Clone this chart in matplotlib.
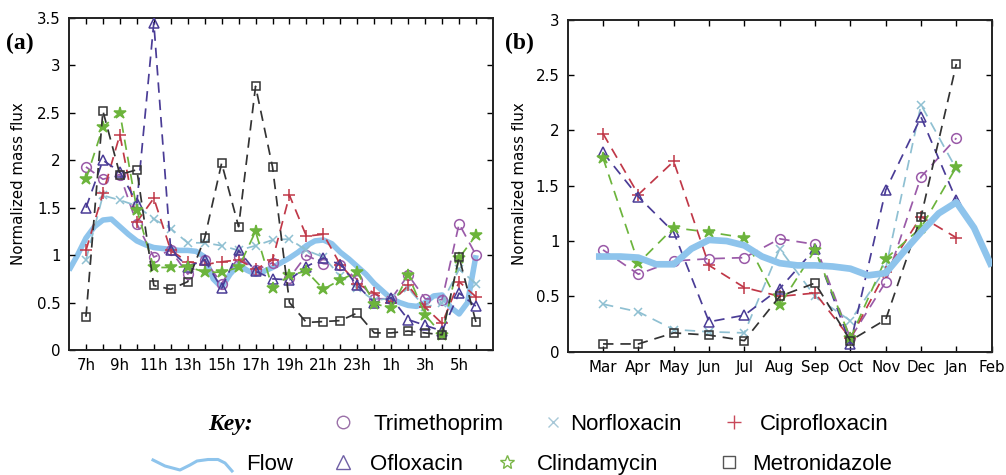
import matplotlib
matplotlib.use("Agg")
import matplotlib.pyplot as plt
from matplotlib.lines import Line2D
import numpy as np

# ---------------- data: panel (a) hourly ----------------
hours = ['7h', '8h', '9h', '10h', '11h', '12h', '13h', '14h', '15h', '16h', '17h', '18h',
         '19h', '20h', '21h', '22h', '23h', '0h', '1h', '2h', '3h', '4h', '5h', '6h']
hour_ticklabels = ['7h', '9h', '11h', '13h', '15h', '17h', '19h', '21h', '23h', '1h', '3h', '5h']

trimethoprim_a = [1.93, 1.80, 1.85, 1.33, 0.98, 1.05, 0.80, 0.95, 0.70, 0.98, 0.84, 0.92,
                  0.76, 1.00, 0.91, 0.90, 0.74, 0.54, 0.54, 0.79, 0.54, 0.53, 1.33, 1.00]
norfloxacin_a = [0.95, 1.63, 1.58, 1.52, 1.38, 1.28, 1.13, 1.13, 1.10, 1.05, 1.10, 1.16,
                 1.17, 1.05, 0.98, 0.78, 0.65, 0.52, 0.55, 0.65, 0.45, 0.50, 0.85, 0.70]
ciprofloxacin_a = [1.05, 1.65, 2.27, 1.35, 1.60, 1.05, 0.93, 0.90, 0.93, 0.95, 0.85, 0.95,
                   1.63, 1.20, 1.22, 0.90, 0.70, 0.60, 0.50, 0.68, 0.45, 0.28, 0.72, 0.56]
ofloxacin_a = [1.50, 2.00, 1.88, 1.55, 3.45, 1.05, 0.88, 0.95, 0.65, 1.05, 0.83, 0.75,
               0.74, 0.88, 0.97, 0.90, 0.68, 0.50, 0.55, 0.32, 0.26, 0.20, 0.60, 0.46]
clindamycin_a = [1.80, 2.35, 2.50, 1.48, 0.87, 0.87, 0.88, 0.82, 0.82, 0.87, 1.25, 0.65,
                 0.79, 0.83, 0.64, 0.74, 0.82, 0.49, 0.44, 0.79, 0.37, 0.16, 0.97, 1.21]
metronidazole_a = [0.35, 2.52, 1.85, 1.90, 0.68, 0.64, 0.72, 1.18, 1.97, 1.30, 2.78, 1.93,
                   0.50, 0.29, 0.30, 0.31, 0.39, 0.18, 0.18, 0.20, 0.18, 0.16, 0.98, 0.29]

flow_a_pos = [-1, -0.5, 0, 0.5, 1, 1.5, 2, 2.5, 3, 3.5, 4, 4.5, 5, 5.5, 6, 6.5, 7, 7.5, 8, 8.5,
              9, 9.5, 10, 10.5, 11, 11.5, 12, 12.5, 13, 13.5, 14, 14.5, 15, 15.5, 16, 16.5,
              17, 17.5, 18, 18.5, 19, 19.5, 20, 20.5, 21, 21.5, 22, 22.5, 23]
flow_a = [0.84, 1.00, 1.18, 1.30, 1.37, 1.38, 1.30, 1.22, 1.15, 1.11, 1.08, 1.07, 1.06, 1.05,
          1.05, 1.04, 0.98, 0.75, 0.66, 0.80, 0.90, 0.84, 0.80, 0.83, 0.87, 0.92, 0.97, 1.03,
          1.10, 1.15, 1.16, 1.12, 1.03, 0.96, 0.88, 0.80, 0.70, 0.62, 0.54, 0.50, 0.47, 0.46,
          0.50, 0.57, 0.58, 0.45, 0.38, 0.50, 1.00]

# ---------------- data: panel (b) monthly ----------------
months = ['Mar', 'Apr', 'May', 'Jun', 'Jul', 'Aug', 'Sep', 'Oct', 'Nov', 'Dec', 'Jan', 'Feb']
trimethoprim_b = [0.92, 0.70, 0.82, 0.84, 0.85, 1.02, 0.97, 0.12, 0.63, 1.58, 1.93]
norfloxacin_b = [0.43, 0.36, 0.20, 0.18, 0.17, 0.93, 0.50, 0.28, 0.75, 2.23, 1.65]
ciprofloxacin_b = [1.97, 1.42, 1.72, 0.78, 0.58, 0.50, 0.53, 0.12, 0.72, 1.22, 1.03]
ofloxacin_b = [1.80, 1.40, 1.08, 0.27, 0.33, 0.57, 0.93, 0.07, 1.46, 2.12, 1.37]
clindamycin_b = [1.75, 0.80, 1.12, 1.08, 1.03, 0.42, 0.92, 0.12, 0.84, 1.12, 1.67]
metronidazole_b = [0.07, 0.07, 0.17, 0.15, 0.10, 0.50, 0.62, 0.10, 0.29, 1.22, 2.60]

flow_b_pos = [-0.2, 0, 0.5, 1, 1.5, 2, 2.5, 3, 3.5, 4, 4.5, 5, 5.5, 6, 6.5, 7, 7.5, 8,
              8.5, 9, 9.5, 10, 10.5, 11]
flow_b = [0.86, 0.86, 0.86, 0.85, 0.79, 0.79, 0.93, 1.01, 1.00, 0.96, 0.86, 0.80,
          0.78, 0.78, 0.77, 0.75, 0.69, 0.71, 0.90, 1.08, 1.25, 1.35, 1.12, 0.77]

# ---------------- styles ----------------
C_TRI = '#9a5aa8'
C_NOR = '#8fc0d2'
C_CIP = '#c03848'
C_OFL = '#4a3c96'
C_CLI = '#6cb43c'
C_MET = '#333333'
C_FLOW = '#8ec4ec'

series_style = [
    ('Trimethoprim', C_TRI, 'o', 7, 'none'),
    ('Norfloxacin', C_NOR, 'x', 6, None),
    ('Ciprofloxacin', C_CIP, '+', 8, None),
    ('Ofloxacin', C_OFL, '^', 7, 'none'),
    ('Clindamycin', C_CLI, '*', 9, C_CLI),
    ('Metronidazole', C_MET, 's', 6, 'none'),
]

plt.rcParams['font.family'] = ['DejaVu Sans']

fig = plt.figure(figsize=(10.06, 4.75), dpi=100)
ax_a = fig.add_axes([69 / 1006, 1 - 350 / 475, 424 / 1006, 332 / 475])
ax_b = fig.add_axes([567.7 / 1006, 1 - 351.7 / 475, 424 / 1006, 332 / 475])


def draw(ax, x, data_list, flow_x, flow_y, flow_on_top, flow_lw):
    ax.plot(flow_x, flow_y, color=C_FLOW, lw=flow_lw, solid_capstyle='butt',
            solid_joinstyle='round', zorder=5 if flow_on_top else 1)
    for (name, col, mk, ms, fc), vals in zip(series_style, data_list):
        kw = dict(color=col, lw=1.25, linestyle=(0, (6, 4)), marker=mk, markersize=ms,
                  markeredgewidth=1.1, zorder=3)
        if fc is not None:
            kw['markerfacecolor'] = fc
        ax.plot(x, vals, **kw)


x_a = np.arange(len(hours))
draw(ax_a, x_a, [trimethoprim_a, norfloxacin_a, ciprofloxacin_a, ofloxacin_a,
                 clindamycin_a, metronidazole_a], flow_a_pos, flow_a, False, 4.0)
x_b = np.arange(len(trimethoprim_b))
draw(ax_b, x_b, [trimethoprim_b, norfloxacin_b, ciprofloxacin_b, ofloxacin_b,
                 clindamycin_b, metronidazole_b], flow_b_pos, flow_b, True, 4.8)

ax_a.set_xlim(-1, 24)
ax_a.set_ylim(0, 3.5)
ax_a.set_xticks(x_a)
ax_a.set_xticklabels([h if h in hour_ticklabels and (i % 2 == 0) else '' for i, h in enumerate(hours)])
ax_a.set_yticks(np.arange(0, 3.51, 0.5))
ax_a.set_yticklabels(['0', '0.5', '1', '1.5', '2', '2.5', '3', '3.5'])

ax_b.set_xlim(-1, 11)
ax_b.set_ylim(0, 3)
ax_b.set_xticks(np.arange(len(months)))
ax_b.set_xticklabels(months)
ax_b.set_yticks(np.arange(0, 3.01, 0.5))
ax_b.set_yticklabels(['0', '0.5', '1', '1.5', '2', '2.5', '3'])

for ax in (ax_a, ax_b):
    ax.tick_params(direction='in', top=True, right=True, length=4, width=1.0,
                   labelsize=10.8, pad=6, colors='black')
    for s in ax.spines.values():
        s.set_linewidth(1.4)
        s.set_color('#222222')
    for lab in ax.get_xticklabels():
        lab.set_clip_on(False)

fig.text(19 / 1006, 1 - 184 / 475, 'Normalized mass flux', rotation=90, ha='center',
         va='center', fontsize=10.8)
fig.text(519 / 1006, 1 - 184 / 475, 'Normalized mass flux', rotation=90, ha='center',
         va='center', fontsize=10.8)

fig.text(6 / 1006, 1 - 43 / 475, '(a)', fontsize=17, fontweight='bold',
         family=['Liberation Serif', 'DejaVu Serif'], ha='left', va='center')
fig.text(505 / 1006, 1 - 43 / 475, '(b)', fontsize=17, fontweight='bold',
         family=['Liberation Serif', 'DejaVu Serif'], ha='left', va='center')

# ---------------- key (legend) ----------------
LEG_FONT = ['Liberation Sans', 'DejaVu Sans']
LEG_FS = 16
r1_mark, r1_base = 1 - 421.5 / 475, 1 - 430 / 475
r2_mark, r2_base = 1 - 461.5 / 475, 1 - 470 / 475

fig.text(208 / 1006, r1_base, 'Key:', fontsize=17, fontweight='bold', fontstyle='italic',
         family=['Liberation Serif', 'DejaVu Serif'], ha='left', va='baseline')

legend_items = [
    ('Trimethoprim', 'o', '#9a70a8', 9, 'none', 343, 373, r1_mark, r1_base),
    ('Norfloxacin', 'x', '#a8c8d8', 7, None, 553, 570, r1_mark, r1_base),
    ('Ciprofloxacin', '+', '#c8485a', 10, None, 734, 760, r1_mark, r1_base),
    ('Ofloxacin', '^', '#6f5fa5', 10, 'none', 343, 370, r2_mark, r2_base),
    ('Clindamycin', '*', '#7ab648', 10, 'none', 507, 537, r2_mark, r2_base),
    ('Metronidazole', 's', '#555555', 8, 'none', 729, 752, r2_mark, r2_base),
]
for label, mk, col, ms, fc, mx, tx, my, ty in legend_items:
    kw = dict(marker=mk, color=col, markersize=ms, markeredgewidth=1.0, linestyle='none',
              transform=fig.transFigure)
    if fc is not None:
        kw['markerfacecolor'] = fc
    fig.add_artist(Line2D([mx / 1006], [my], **kw))
    fig.text(tx / 1006, ty, label, fontsize=LEG_FS, family=LEG_FONT, ha='left', va='baseline')

wave_px = [(153, 460), (165, 466), (180, 470), (190, 465), (197, 461), (208, 459.5),
           (218, 459.5), (225, 463), (232, 471)]
fig.add_artist(Line2D([p[0] / 1006 for p in wave_px], [1 - p[1] / 475 for p in wave_px],
                      color='#8ec4ec', lw=2.2, transform=fig.transFigure))
fig.text(246 / 1006, r2_base, 'Flow', fontsize=LEG_FS, family=LEG_FONT, ha='left',
         va='baseline')

fig.savefig('out.png', dpi=100)
